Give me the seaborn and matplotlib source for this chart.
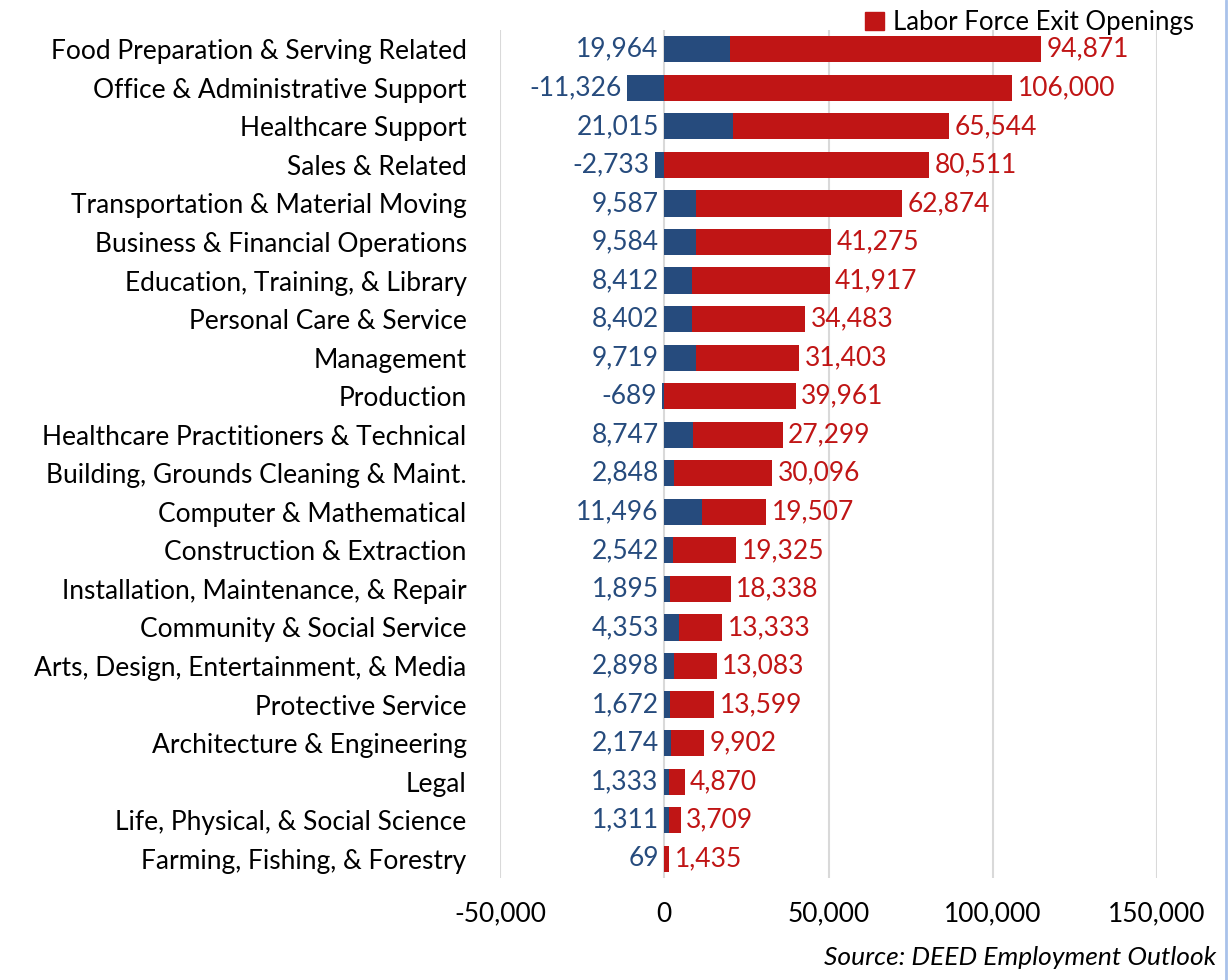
import matplotlib
matplotlib.use("Agg")
import matplotlib.pyplot as plt
from matplotlib.patches import Patch
from matplotlib.lines import Line2D
import seaborn as sns
import pandas as pd

categories = [
    "Food Preparation & Serving Related",
    "Office & Administrative Support",
    "Healthcare Support",
    "Sales & Related",
    "Transportation & Material Moving",
    "Business & Financial Operations",
    "Education, Training, & Library",
    "Personal Care & Service",
    "Management",
    "Production",
    "Healthcare Practitioners & Technical",
    "Building, Grounds Cleaning & Maint.",
    "Computer & Mathematical",
    "Construction & Extraction",
    "Installation, Maintenance, & Repair",
    "Community & Social Service",
    "Arts, Design, Entertainment, & Media",
    "Protective Service",
    "Architecture & Engineering",
    "Legal",
    "Life, Physical, & Social Science",
    "Farming, Fishing, & Forestry",
]
growth = [19964, -11326, 21015, -2733, 9587, 9584, 8412, 8402, 9719, -689,
          8747, 2848, 11496, 2542, 1895, 4353, 2898, 1672, 2174, 1333, 1311, 69]
exits = [94871, 106000, 65544, 80511, 62874, 41275, 41917, 34483, 31403, 39961,
         27299, 30096, 19507, 19325, 18338, 13333, 13083, 13599, 9902, 4870, 3709, 1435]
x_ticks = [-50000, 0, 50000, 100000, 150000]

BLUE = "#264b7d"
RED = "#c01515"
FONT = "Lato"
FS = 19

df = pd.DataFrame({"cat": categories, "growth": growth, "exits": exits})
# red bar sits on top of positive growth, starts at zero otherwise
df["top"] = df["growth"].clip(lower=0) + df["exits"]

sns.set_theme(style="white")
plt.rcParams["font.family"] = [FONT, "DejaVu Sans"]
plt.rcParams["text.color"] = "black"

fig = plt.figure(figsize=(12.31, 9.8), dpi=100)
ax = fig.add_axes([500 / 1231, 1 - 878 / 980, 657 / 1231, 848 / 980])

sns.barplot(data=df, x="top", y="cat", orient="h", color=RED, saturation=1,
            width=0.68, linewidth=0, ax=ax)
sns.barplot(data=df, x="growth", y="cat", orient="h", color=BLUE, saturation=1,
            width=0.68, linewidth=0, ax=ax)

ax.set_xlim(-50000, 150000)
ax.set_ylim(len(categories) - 0.5, -0.5)
ax.set_xticks(x_ticks)
ax.set_xticklabels([f"{v:,}" for v in x_ticks])
ax.set_xlabel("")
ax.set_ylabel("")
ax.grid(axis="x", color="#d9d9d9", linewidth=1.5)
ax.grid(axis="y", visible=False)
ax.set_axisbelow(True)
for s in ax.spines.values():
    s.set_visible(False)
ax.tick_params(axis="y", length=0, pad=24, labelsize=FS, labelcolor="black")
ax.tick_params(axis="x", length=0, pad=17, labelsize=FS, labelcolor="black")

for i, row in df.iterrows():
    ax.annotate(f"{row['growth']:,}", (min(row["growth"], 0), i),
                xytext=(-4, 0), textcoords="offset points",
                ha="right", va="center", color=BLUE, fontsize=FS)
    ax.annotate(f"{row['exits']:,}", (row["top"], i),
                xytext=(4, 0), textcoords="offset points",
                ha="left", va="center", color=RED, fontsize=FS)

ax.legend(handles=[Patch(color=RED, label="Labor Force Exit Openings")],
          loc="upper right", bbox_to_anchor=(1207 / 1231, 1.003),
          bbox_transform=fig.transFigure, frameon=False, fontsize=18.5,
          handlelength=0.75, handleheight=0.75, handletextpad=0.35,
          borderaxespad=0.1)

fig.text(1216 / 1231, 1 - 957 / 980, "Source: DEED Employment Outlook",
         ha="right", va="center", style="italic", fontsize=FS)
fig.add_artist(Line2D([1226 / 1231, 1226 / 1231], [0, 1],
                      transform=fig.transFigure, color="#a9c2ea", linewidth=2))

fig.savefig("out.png", dpi=100)
